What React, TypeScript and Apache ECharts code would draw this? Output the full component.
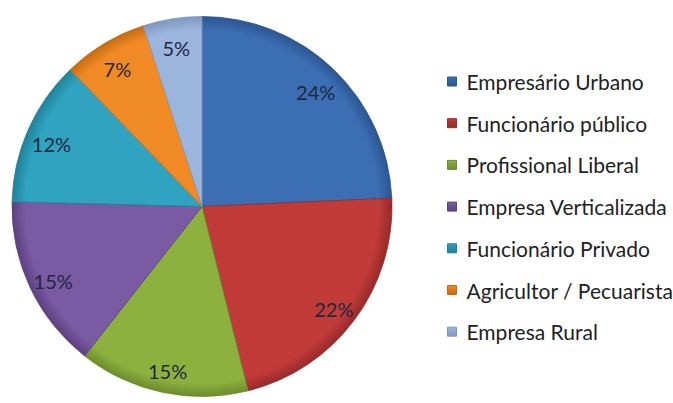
import React, { useEffect, useRef } from "react";
import * as echarts from "echarts";

const categories = [
  "Empresário Urbano",
  "Funcionário público",
  "Profissional Liberal",
  "Empresa Verticalizada",
  "Funcionário Privado",
  "Agricultor / Pecuarista",
  "Empresa Rural",
];
// slice sizes (labels show them rounded)
const values = [24.3, 21.8, 14.5, 14.8, 12.4, 7.2, 5.0];
const colors = ["#3C6EB4", "#C13B39", "#8CB13F", "#7A5AA2", "#2FA3BF", "#F08A25", "#9BB5DD"];
const rims = ["#2C5690", "#962A29", "#6C8C2C", "#5C4080", "#21819A", "#C66B14", "#7E98C0"];

const CX = 202;
const CY = 206.5;
const R = 190;
const FONT = "Lato, 'Open Sans', sans-serif";

export default function App() {
  const ref = useRef<HTMLDivElement>(null);
  useEffect(() => {
    if (!ref.current) return;
    const chart = echarts.init(ref.current, undefined, { renderer: "svg" });
    const mainData = categories.map((name, i) => ({
      name,
      value: values[i],
      itemStyle: {
        color: {
          type: "radial",
          x: CX,
          y: CY,
          r: R,
          global: true,
          colorStops: [
            { offset: 0, color: colors[i] },
            { offset: 0.93, color: colors[i] },
            { offset: 1, color: rims[i] },
          ],
        },
        borderColor: rims[i],
        borderWidth: 0.8,
      },
    }));
    const labelData = categories.map((name, i) => ({
      name: "lbl" + i,
      value: values[i],
    }));
    chart.setOption({
      animation: false,
      backgroundColor: "#ffffff",
      legend: {
        orient: "vertical",
        left: 447,
        top: 71,
        padding: 0,
        itemWidth: 9,
        itemHeight: 9,
        itemGap: 20.7,
        icon: "rect",
        data: categories.map((name, i) => ({
          name,
          itemStyle: {
            color: {
              type: "linear",
              x: 0, y: 0, x2: 0, y2: 1,
              colorStops: [
                { offset: 0, color: colors[i] },
                { offset: 1, color: rims[i] },
              ],
            },
            borderColor: rims[i],
            borderWidth: 1,
          },
        })),
        textStyle: {
          fontFamily: FONT,
          fontSize: 21,
          lineHeight: 21,
          color: "#222222",
          padding: [0, 0, 0, 5],
        },
        selectedMode: false,
      },
      series: [
        {
          type: "pie",
          center: [CX, CY],
          radius: [0, R],
          startAngle: 90,
          clockwise: true,
          label: { show: false },
          labelLine: { show: false },
          emphasis: { disabled: true },
          data: mainData,
        },
        {
          type: "pie",
          center: [CX, CY],
          radius: [R * 0.7, R],
          startAngle: 90,
          clockwise: true,
          silent: true,
          itemStyle: { color: "rgba(0,0,0,0)" },
          label: {
            show: true,
            position: "inside",
            offset: [0, 4],
            formatter: (p: any) => Math.round(p.value) + "%",
            fontFamily: FONT,
            fontSize: 20,
            color: "#1E2740",
          },
          labelLine: { show: false },
          emphasis: { disabled: true },
          data: labelData,
        },
      ],
    });
    return () => chart.dispose();
  }, []);
  return (
    <div
      ref={ref}
      style={{ position: "fixed", left: 0, top: 0, width: 673, height: 403 }}
    />
  );
}
